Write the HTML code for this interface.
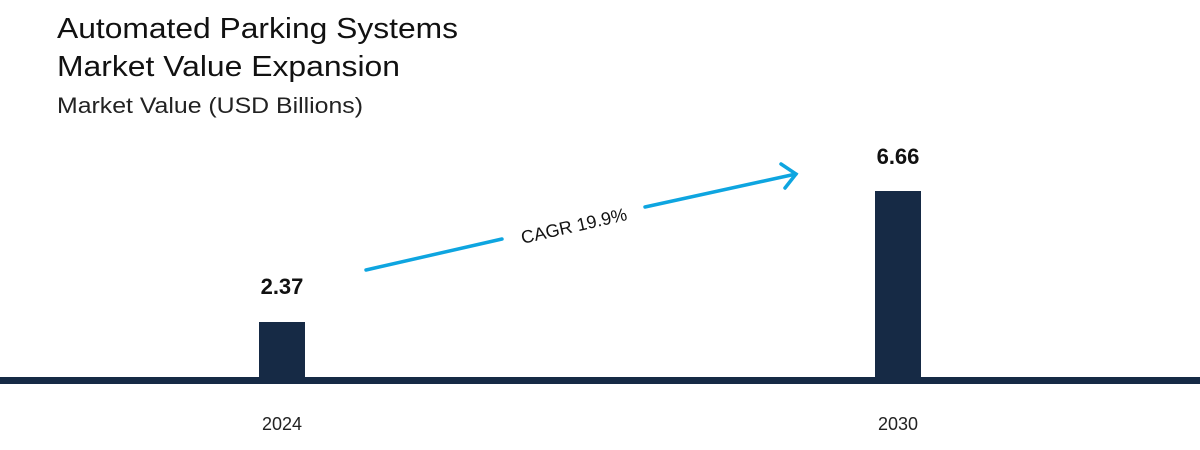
<!DOCTYPE html>
<html><head><style>
body{margin:0;width:1200px;height:450px;background:#fff;overflow:hidden;font-family:"Liberation Sans",sans-serif;}
</style></head><body>
<svg width="1200" height="450" xmlns="http://www.w3.org/2000/svg" style="position:absolute;left:0;top:0">
<text x="57" y="38" font-size="29" fill="#111" textLength="401" lengthAdjust="spacingAndGlyphs">Automated Parking Systems</text>
<text x="57" y="76" font-size="29" fill="#111" textLength="343" lengthAdjust="spacingAndGlyphs">Market Value Expansion</text>
<text x="57" y="113" font-size="22" fill="#222" textLength="306" lengthAdjust="spacingAndGlyphs">Market Value (USD Billions)</text>
<rect x="259" y="322" width="46" height="58" fill="#162a45"/>
<rect x="875" y="191" width="46" height="189" fill="#162a45"/>
<rect x="0" y="377" width="1200" height="7" fill="#162a45"/>
<text x="282" y="294" font-size="22" font-weight="bold" text-anchor="middle" fill="#111">2.37</text>
<text x="898" y="164" font-size="22" font-weight="bold" text-anchor="middle" fill="#111">6.66</text>
<text x="282" y="430" font-size="18" text-anchor="middle" fill="#222">2024</text>
<text x="898" y="430" font-size="18" text-anchor="middle" fill="#222">2030</text>
<g stroke="#0ea5e0" stroke-width="3.5" fill="none" stroke-linecap="round">
<line x1="366" y1="270" x2="502" y2="239"/>
<line x1="645" y1="207" x2="796" y2="174"/>
<polyline points="781,164 796,174 785,188"/>
</g>
<text x="574" y="232" font-size="18" text-anchor="middle" fill="#111" transform="rotate(-12.8 574 226)">CAGR 19.9%</text>
</svg>
</body></html>
